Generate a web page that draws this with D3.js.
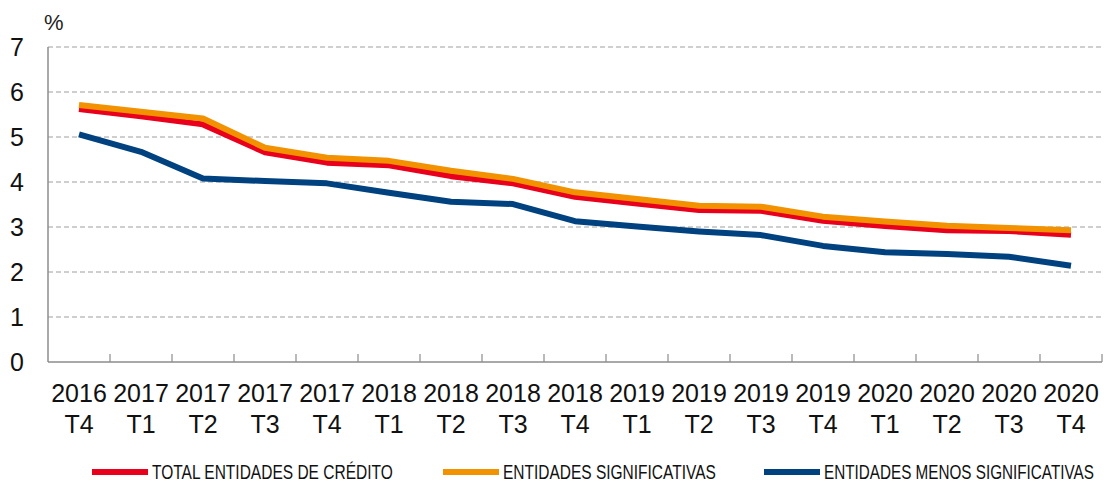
<!DOCTYPE html>
<meta charset="utf-8">
<script src="https://d3js.org/d3.v7.min.js"></script>
<style>
  body { margin: 0; background: #fff; }
  text { font-family: "Liberation Sans", Arial, sans-serif; }
</style>
<div id="chart"></div>
<script>
  // quarters on the x axis: [year, quarter]
  var years    = ["2016","2017","2017","2017","2017","2018","2018","2018","2018","2019","2019","2019","2019","2020","2020","2020","2020"];
  var quarters = ["T4","T1","T2","T3","T4","T1","T2","T3","T4","T1","T2","T3","T4","T1","T2","T3","T4"];
  var categories = years.map(function(y, i) { return y + " " + quarters[i]; });

  // ratios in %
  var total        = [5.62, 5.46, 5.28, 4.66, 4.43, 4.37, 4.13, 3.97, 3.67, 3.52, 3.38, 3.36, 3.14, 3.02, 2.93, 2.91, 2.83];
  var significant  = [5.71, 5.56, 5.41, 4.76, 4.54, 4.47, 4.25, 4.07, 3.77, 3.62, 3.47, 3.45, 3.23, 3.12, 3.03, 2.98, 2.93];
  var lessSignif   = [5.06, 4.67, 4.08, 4.02, 3.97, 3.76, 3.56, 3.51, 3.13, 3.01, 2.90, 2.82, 2.58, 2.44, 2.40, 2.34, 2.14];

  var yTicks = [0, 1, 2, 3, 4, 5, 6, 7];

  var series = [
    {name: "TOTAL ENTIDADES DE CRÉDITO", values: total, color: "#e8001c"},
    {name: "ENTIDADES SIGNIFICATIVAS", values: significant, color: "#f39200"},
    {name: "ENTIDADES MENOS SIGNIFICATIVAS", values: lessSignif, color: "#00427f"}
  ];

  var W = 1105, H = 484;
  var plotLeft = 48, plotRight = 1102, plotTop = 47, plotBottom = 362;

  var svg = d3.select("#chart").append("svg")
    .attr("width", W).attr("height", H);

  var x = d3.scaleBand().domain(categories).range([plotLeft, plotRight]).padding(0);
  var y = d3.scaleLinear().domain([0, 7]).range([plotBottom, plotTop]);

  // dashed gridlines
  svg.selectAll(".grid")
    .data(yTicks.filter(function(d) { return d > 0; }))
    .enter().append("line")
      .attr("x1", plotLeft).attr("x2", plotRight)
      .attr("y1", function(d) { return y(d); })
      .attr("y2", function(d) { return y(d); })
      .style("stroke", "#9e9e9e")
      .style("stroke-width", 1)
      .style("stroke-dasharray", "5,3");

  // y tick labels
  svg.selectAll(".ylab")
    .data(yTicks)
    .enter().append("text")
      .attr("x", 24)
      .attr("y", function(d) { return y(d) + 9; })
      .attr("text-anchor", "end")
      .style("font-size", "25px")
      .style("fill", "#111")
      .text(function(d) { return d; });

  svg.append("text")
    .attr("x", 44).attr("y", 30)
    .style("font-size", "22px")
    .style("fill", "#222")
    .text("%");

  // axis lines
  svg.append("line")
    .attr("x1", plotLeft).attr("x2", plotLeft).attr("y1", plotTop).attr("y2", plotBottom)
    .style("stroke", "#8c8c8c").style("stroke-width", 1.5);
  svg.append("line")
    .attr("x1", plotLeft).attr("x2", plotRight).attr("y1", plotBottom).attr("y2", plotBottom)
    .style("stroke", "#8c8c8c").style("stroke-width", 1.5);

  // x tick marks at category boundaries
  svg.selectAll(".xtick")
    .data(categories)
    .enter().append("line")
      .attr("x1", function(d) { return x(d) + x.bandwidth(); })
      .attr("x2", function(d) { return x(d) + x.bandwidth(); })
      .attr("y1", plotBottom).attr("y2", plotBottom - 8)
      .style("stroke", "#8c8c8c").style("stroke-width", 1.2);

  // x labels on two rows
  var xl = svg.selectAll(".xlab")
    .data(categories)
    .enter().append("text")
      .attr("text-anchor", "middle")
      .style("font-size", "25px")
      .style("fill", "#111");
  xl.append("tspan")
    .attr("x", function(d) { return x(d) + x.bandwidth() / 2; })
    .attr("y", 402)
    .text(function(d, i) { return years[i]; });
  xl.append("tspan")
    .attr("x", function(d) { return x(d) + x.bandwidth() / 2; })
    .attr("y", 433)
    .text(function(d, i) { return quarters[i]; });

  // lines
  var line = d3.line()
    .x(function(d, i) { return x(categories[i]) + x.bandwidth() / 2; })
    .y(function(d) { return y(d); });

  svg.selectAll(".serie")
    .data(series)
    .enter().append("path")
      .attr("d", function(d) { return line(d.values); })
      .style("fill", "none")
      .style("stroke", function(d) { return d.color; })
      .style("stroke-width", 6)
      .style("stroke-linejoin", "round");

  // legend (text squeezed horizontally to look condensed)
  var legendX = [92, 443, 764];
  var legendW = [241, 213, 270];
  var lg = svg.selectAll(".legend")
    .data(series)
    .enter().append("g")
      .attr("transform", function(d, i) { return "translate(" + legendX[i] + ",472)"; });
  lg.append("line")
    .attr("x1", 0).attr("x2", 56)
    .style("stroke", function(d) { return d.color; })
    .style("stroke-width", 6);
  lg.append("text")
    .style("font-size", "20px")
    .style("fill", "#111")
    .text(function(d) { return d.name; })
    .attr("transform", function(d, i) {
      var sx = legendW[i] / this.getComputedTextLength();
      return "translate(60,7) scale(" + sx + ",1)";
    });
</script>
